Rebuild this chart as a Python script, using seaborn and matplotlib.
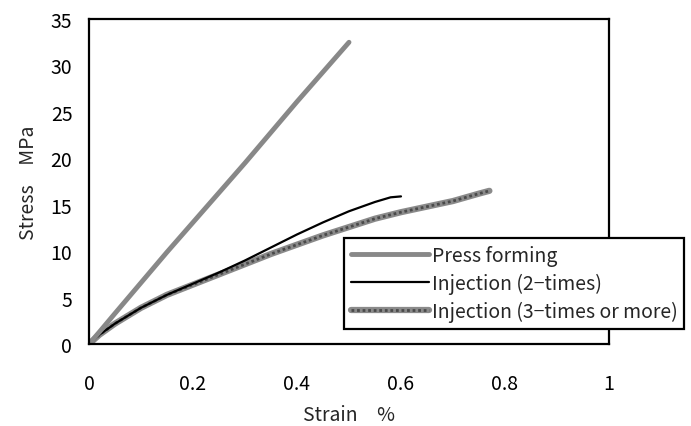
import matplotlib
matplotlib.use('Agg')
import matplotlib.pyplot as plt
import seaborn as sns
import pandas as pd
import numpy as np
from matplotlib.lines import Line2D
from matplotlib.legend_handler import HandlerTuple

# Stress-strain curves
press_strain = [0.0, 0.02, 0.05, 0.1, 0.15, 0.2, 0.25, 0.3, 0.35, 0.4, 0.45, 0.5]
press_stress = [0.0, 1.3, 3.3, 6.6, 9.9, 13.1, 16.3, 19.5, 22.8, 26.1, 29.3, 32.5]

inj2_strain = [0.0, 0.02, 0.05, 0.1, 0.15, 0.2, 0.25, 0.3, 0.35, 0.4, 0.45, 0.5, 0.55, 0.58, 0.6]
inj2_stress = [0.0, 1.0, 2.2, 3.9, 5.3, 6.5, 7.7, 9.0, 10.4, 11.8, 13.1, 14.3, 15.3, 15.8, 15.9]

inj3_strain = [0.0, 0.02, 0.05, 0.1, 0.15, 0.2, 0.25, 0.3, 0.35, 0.4, 0.45, 0.5, 0.55, 0.6, 0.65, 0.7, 0.75, 0.77]
inj3_stress = [0.0, 1.0, 2.2, 3.9, 5.3, 6.4, 7.5, 8.6, 9.7, 10.7, 11.7, 12.6, 13.5, 14.2, 14.8, 15.4, 16.2, 16.5]

labels = ['Press forming', 'Injection (2\u2212times)', 'Injection (3\u2212times or more)']
x_ticks = [0, 0.2, 0.4, 0.6, 0.8, 1]
x_tick_labels = ['0', '0.2', '0.4', '0.6', '0.8', '1']
y_ticks = [0, 5, 10, 15, 20, 25, 30, 35]

df = pd.concat([
    pd.DataFrame({'strain': press_strain, 'stress': press_stress, 'series': labels[0]}),
    pd.DataFrame({'strain': inj2_strain, 'stress': inj2_stress, 'series': labels[1]}),
    pd.DataFrame({'strain': inj3_strain, 'stress': inj3_stress, 'series': labels[2]}),
])

sns.set_style('white')
plt.rcParams['font.family'] = ['Noto Sans CJK JP', 'DejaVu Sans']

fig = plt.figure(figsize=(6.91, 4.27), dpi=100)
ax = fig.add_axes([0.1288, 0.192, 0.7525, 0.761])

d1 = df[df['series'] == labels[0]]
d2 = df[df['series'] == labels[1]]
d3 = df[df['series'] == labels[2]]

# 3-times curve: thick grey line with a dark dotted overlay
sns.lineplot(data=d3, x='strain', y='stress', ax=ax, color='#8a8a8a', lw=4.5, sort=False, estimator=None)
sns.lineplot(data=d3, x='strain', y='stress', ax=ax, color='#4a4a4a', lw=2, ls=(0, (1, 1)), sort=False, estimator=None)
sns.lineplot(data=d2, x='strain', y='stress', ax=ax, color='black', lw=1.6, sort=False, estimator=None)
sns.lineplot(data=d1, x='strain', y='stress', ax=ax, color='#888888', lw=3.5, sort=False, estimator=None)

ax.set_xlim(0, 1)
ax.set_ylim(0, 35)
ax.set_xticks(x_ticks)
ax.set_xticklabels(x_tick_labels)
ax.set_yticks(y_ticks)
ax.tick_params(direction='in', length=5, width=1.5, labelsize=14, colors='black')
ax.tick_params(axis='x', pad=21)
ax.tick_params(axis='y', pad=12)
for s in ax.spines.values():
    s.set_color('black')
    s.set_linewidth(1.6)

ax.set_xlabel('Strain\u3000%', fontsize=14, labelpad=7)
ax.set_ylabel('Stress\u3000MPa', fontsize=14, labelpad=8)

h1 = Line2D([], [], color='#888888', lw=3.5)
h2 = Line2D([], [], color='black', lw=1.6)
h3a = Line2D([], [], color='#8a8a8a', lw=4.5)
h3b = Line2D([], [], color='#4a4a4a', lw=2, ls=(0, (1, 1)))
leg = fig.legend([h1, h2, (h3a, h3b)], labels,
                 handler_map={tuple: HandlerTuple(ndivide=1)},
                 loc='upper left', bbox_to_anchor=(344 / 691, 1 - 239 / 427),
                 fontsize=14, frameon=True, fancybox=False, edgecolor='black',
                 handlelength=4.0, handletextpad=0.15, labelspacing=0.35,
                 borderpad=0.35, borderaxespad=0)
leg.get_frame().set_linewidth(1.6)
leg.get_frame().set_facecolor('white')
leg.get_frame().set_alpha(1)

fig.savefig('out.png', dpi=100)
